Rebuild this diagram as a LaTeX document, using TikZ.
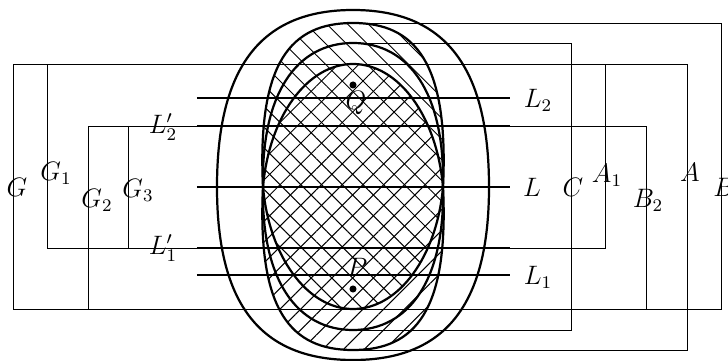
\documentclass[tikz,border=0pt]{standalone}
\usepackage{amsmath}
\usetikzlibrary{patterns.meta}

\begin{document}
\begin{tikzpicture}[x=0.45pt, y=0.45pt, font=\large,
  curve/.style={line width=1pt},
  wire/.style={line width=0.4pt},
  hatch/.style={pattern={Lines[angle=#1, distance=6.6pt, line width=0.45pt]}}]

\useasboundingbox (-353,-174) rectangle (375,187);

% Tops and bottoms of the curves
\coordinate (top1) at (0,164);
\coordinate (top3) at (0,144);
\coordinate (top2) at (0,123);
\coordinate (bot1) at (0,-122);
\coordinate (bot3) at (0,-143);
\coordinate (bot2) at (0,-163);

% Hatched regions
\fill[hatch=-45] (-90,0) .. controls (-96,125) and (-62,164) .. (top1)
  .. controls (62,164) and (96,125) .. (90,0)
  .. controls (84,-69) and (46,-122) .. (bot1)
  .. controls (-46,-122) and (-84,-69) .. cycle;
\fill[hatch=45] (-90,0) .. controls (-84,70) and (-46,123) .. (top2)
  .. controls (46,123) and (84,70) .. (90,0)
  .. controls (96,-124) and (62,-163) .. (bot2)
  .. controls (-62,-163) and (-96,-124) .. cycle;

% Wires
\draw[wire] (bot1) -- (-340,-122) -- (-340,123) -- (top2);
\draw[wire] (top2) -- (334,123) -- (334,-163) -- (bot2);
\draw[wire] (top1) -- (368,164) -- (368,-122) -- (bot1);
\draw[wire] (top3) -- (218,144) -- (218,-143) -- (bot3);
\draw[wire] (-156,-61) -- (-306,-61) -- (-306,123);
\draw[wire] (-156,61) -- (-265,61) -- (-265,-122);
\draw[wire] (-225,61) -- (-225,-61);
\draw[wire] (157,-61) -- (252,-61) -- (252,123);
\draw[wire] (157,61) -- (293,61) -- (293,-122);

% Chords
\foreach \y in {89,61,0,-61,-88}
  \draw[curve] (-156,\y) -- (157,\y);

% Curves
\draw[curve] (-136,0) .. controls (-136,120) and (-92,177) .. (0,177)
  .. controls (92,177) and (136,120) .. (136,0)
  .. controls (136,-118) and (92,-173) .. (0,-173)
  .. controls (-92,-173) and (-136,-118) .. cycle;
\draw[curve] (-90,0) .. controls (-96,125) and (-62,164) .. (top1)
  .. controls (62,164) and (96,125) .. (90,0)
  .. controls (84,-69) and (46,-122) .. (bot1)
  .. controls (-46,-122) and (-84,-69) .. cycle;
\draw[curve] (-90,0) .. controls (-84,70) and (-46,123) .. (top2)
  .. controls (46,123) and (84,70) .. (90,0)
  .. controls (96,-124) and (62,-163) .. (bot2)
  .. controls (-62,-163) and (-96,-124) .. cycle;
\draw[curve] (-90,0) .. controls (-92,94) and (-56,144) .. (top3)
  .. controls (56,144) and (92,94) .. (90,0)
  .. controls (92,-93) and (56,-143) .. (bot3)
  .. controls (-56,-143) and (-92,-93) .. cycle;

% Points
\fill (0,102) circle (1.6pt);
\fill (0,-102) circle (1.6pt);
\node (Q) at (3,84) {$Q$};
\node (P) at (4,-80) {$P$};

% Labels
\node (G) at (-336,0) {$G$};
\node (G1) at (-297,14) {$G_1$};
\node (G2) at (-256,-13) {$G_2$};
\node (G3) at (-215,-3) {$G_3$};
\node (L2p) at (-190,60) {$L_2'$};
\node (L1p) at (-190,-61) {$L_1'$};
\node (L2) at (185,87) {$L_2$};
\node (L) at (179,0) {$L$};
\node (L1) at (185,-90) {$L_1$};
\node (C) at (220,0) {$C$};
\node (A1) at (254,12) {$A_1$};
\node (B2) at (295,-13) {$B_2$};
\node (A) at (337,15) {$A$};
\node (B) at (371,0) {$B$};

\end{tikzpicture}
\end{document}
